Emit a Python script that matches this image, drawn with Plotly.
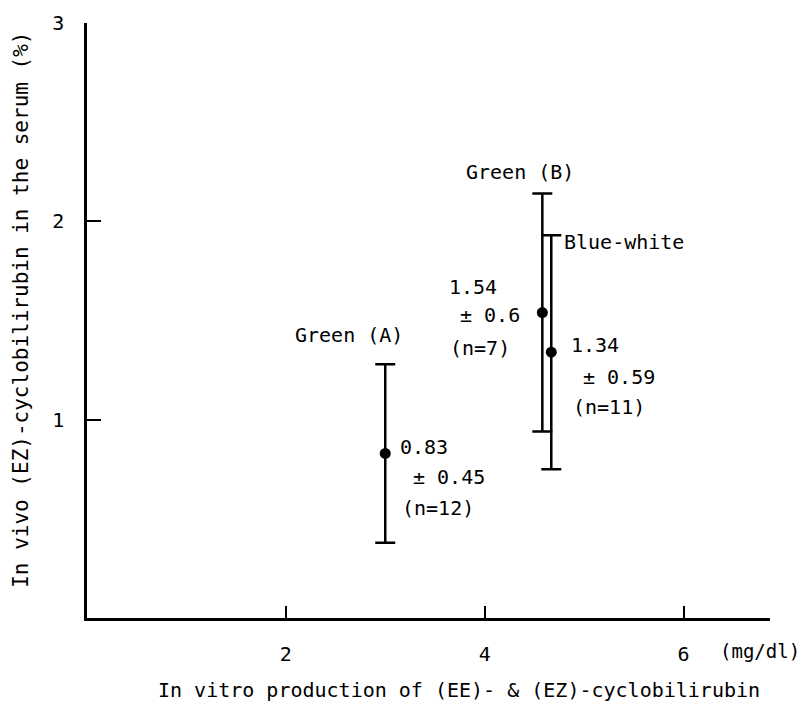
import plotly.graph_objects as go

groups = ["Green (A)", "Green (B)", "Blue-white"]
x_vals = [3.0, 4.58, 4.67]
means = [0.83, 1.54, 1.34]
sds = [0.45, 0.6, 0.59]
ns = [12, 7, 11]
x_ticks = [2, 4, 6]
y_ticks = [1, 2, 3]

FONT = "DejaVu Sans Mono"
fs = 20

fig = go.Figure()
fig.add_trace(go.Scatter(
    x=x_vals, y=means, mode="markers",
    marker=dict(color="black", size=11),
    error_y=dict(type="data", array=sds, visible=True, color="black",
                 thickness=2.5, width=10),
    showlegend=False, hoverinfo="skip",
))

# group name labels (pixel offsets from top of error bar)
name_off = [(-36, 29, "center"), (-22, 22, "center"), (11, -7, "left")]
for g, x, m, s, (dx, dy, anc) in zip(groups, x_vals, means, sds, name_off):
    fig.add_annotation(x=x, y=m + s, text=g, showarrow=False, xanchor=anc,
                       yanchor="middle", xshift=dx, yshift=dy,
                       font=dict(family=FONT, size=fs, color="black"))

# stats labels: (left x offset, y offset) for each of three lines
stat_off = [
    [(13, 6), (26, -24), (15, -55)],
    [(-95, 26), (-84, -2), (-94, -35)],
    [(18, 7), (30, -25), (20, -55)],
]
for x, m, s, n, offs in zip(x_vals, means, sds, ns, stat_off):
    lines = [f"{m:.2f}", f"± {s:g}", f"(n={n})"]
    for t, (dx, dy) in zip(lines, offs):
        fig.add_annotation(x=x, y=m, text=t, showarrow=False, xanchor="left",
                           yanchor="middle", xshift=dx, yshift=dy,
                           font=dict(family=FONT, size=fs, color="black"))

fig.add_annotation(xref="paper", yref="paper", x=0.924, y=0, text="(mg/dl)",
                   showarrow=False, xanchor="left", yanchor="middle", yshift=-33,
                   font=dict(family=FONT, size=19, color="black"))
fig.add_annotation(xref="paper", yref="paper", x=0.545, y=0,
                   text="In vitro production of (EE)- &amp; (EZ)-cyclobilirubin",
                   showarrow=False, xanchor="center", yanchor="middle", yshift=-72,
                   font=dict(family=FONT, size=20, color="black"))
fig.add_annotation(xref="paper", yref="paper", x=0, y=0.518,
                   text="In vivo (EZ)-cyclobilirubin in the serum (%)",
                   textangle=-90, showarrow=False, xanchor="center", yanchor="middle",
                   xshift=-66, font=dict(family=FONT, size=21, color="black"))

fig.update_xaxes(range=[0, 6.87], tickvals=x_ticks, ticks="inside", ticklen=12,
                 tickwidth=2, tickcolor="black", showline=True, linewidth=2.5,
                 linecolor="black", showgrid=False, zeroline=False,
                 ticklabelstandoff=16,
                 tickfont=dict(family=FONT, size=fs, color="black"))
fig.update_yaxes(range=[0, 3], tickvals=y_ticks, ticks="inside", ticklen=14,
                 tickwidth=2, tickcolor="black", showline=True, linewidth=2.5,
                 linecolor="black", showgrid=False, zeroline=False,
                 ticklabelstandoff=16,
                 tickfont=dict(family=FONT, size=fs, color="black"))

fig.update_layout(width=802, height=708, margin=dict(l=87, r=32, t=23, b=90),
                  plot_bgcolor="white", paper_bgcolor="white")
fig.write_html("out.html")
